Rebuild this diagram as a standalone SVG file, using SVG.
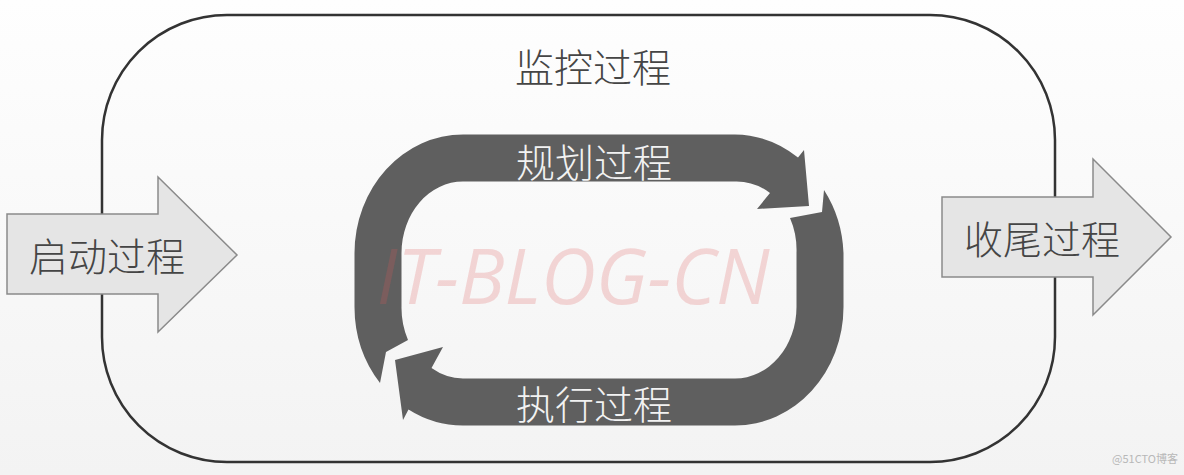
<svg xmlns="http://www.w3.org/2000/svg" width="1184" height="475" viewBox="0 0 1184 475">
  <defs>
    <linearGradient id="bg" x1="0" y1="0" x2="0" y2="1">
      <stop offset="0" stop-color="#fefefe"/>
      <stop offset="1" stop-color="#f3f3f3"/>
    </linearGradient>
  </defs>
  <style>
    .cn { font-family: "Noto Sans CJK SC", "Noto Sans", sans-serif; font-size: 39px; font-weight: 300; text-anchor: middle; dominant-baseline: central; }
    .dark { fill: #454545; }
    .light { fill: #f2f2f2; }
    .block { fill: #e5e5e5; stroke: #8a8a8a; stroke-width: 1.5; }
    .cyc { fill: #5f5f5f; }
  </style>
  <rect x="0" y="0" width="1184" height="475" fill="url(#bg)"/>

  <g id="monitor">
    <rect x="102" y="15" width="953" height="447" rx="125" ry="125" fill="none" stroke="#333" stroke-width="2.5"/>
    <text class="cn dark" x="593" y="65">监控过程</text>
  </g>

  <g id="connectors">
    <g id="planning">
      <path class="cyc" d="M380,383 A108.5,118.5 0 0 1 354.5,307 L354.5,253 A108.5,118.5 0 0 1 463,134.5 L735,134.5 A108.5,118.5 0 0 1 798,157.5 L804,150 L809,206 L757,209 L770,193 A61.5,71.5 0 0 0 735,181.5 L463,181.5 A61.5,71.5 0 0 0 401.5,253 L401.5,307 A61.5,71.5 0 0 0 408,340 L386,352 Z"/>
      <text class="cn light" x="594" y="160">规划过程</text>
    </g>
    <g id="executing">
      <path class="cyc" d="M824,190 A108.5,118.5 0 0 1 843.5,253 L843.5,307 A108.5,118.5 0 0 1 735,425.5 L463,425.5 A108.5,118.5 0 0 1 408.5,409.5 L403,420 L395,360 L443,347 L431.5,368 A61.5,71.5 0 0 0 463,378.5 L735,378.5 A61.5,71.5 0 0 0 796.5,307 L796.5,253 A61.5,71.5 0 0 0 790,218 L822,212 Z"/>
      <text class="cn light" x="594" y="402">执行过程</text>
    </g>
  </g>

  <g id="initiating">
    <polygon class="block" points="7,214 158,214 158,177 237,255 158,332 158,294 7,294"/>
    <text class="cn dark" x="107" y="254">启动过程</text>
  </g>

  <g id="closing">
    <polygon class="block" points="942,197 1093,197 1093,159 1171,237 1093,315 1093,277 942,277"/>
    <text class="cn dark" x="1042" y="237">收尾过程</text>
  </g>

  <text x="573" y="304" font-family="'Open Sans', 'Liberation Sans', sans-serif" font-style="italic" font-size="76" text-anchor="middle" fill="#e05555" fill-opacity="0.22">IT-BLOG-CN</text>

  <text x="1145" y="463" font-family="'Noto Sans CJK SC', sans-serif" font-size="11" text-anchor="middle" fill="#b8b8b8">@51CTO博客</text>
</svg>
